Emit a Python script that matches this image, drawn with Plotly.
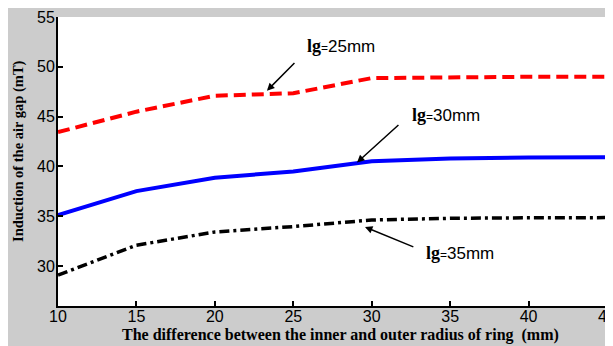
import plotly.graph_objects as go

x_vals = [10, 15, 20, 25, 30, 35, 40, 45]
lg25 = [43.45, 45.5, 47.1, 47.35, 48.87, 48.97, 49.0, 49.0]
lg30 = [35.13, 37.53, 38.87, 39.5, 40.53, 40.8, 40.9, 40.93]
lg35 = [29.1, 32.1, 33.43, 33.97, 34.63, 34.8, 34.85, 34.87]

x_ticks = [10, 15, 20, 25, 30, 35, 40, 45]
y_ticks = [30, 35, 40, 45, 50, 55]

fig = go.Figure()
fig.add_trace(go.Scatter(x=x_vals, y=lg25, mode="lines",
                         line=dict(color="#ff0000", width=4, dash="12px,6px")))
fig.add_trace(go.Scatter(x=x_vals, y=lg30, mode="lines",
                         line=dict(color="#0000ff", width=4)))
fig.add_trace(go.Scatter(x=x_vals, y=lg35, mode="lines",
                         line=dict(color="#000000", width=3.5, dash="10px,4px,3px,4px")))

serif = "Liberation Serif, Times New Roman, serif"
sans = "Liberation Sans, Arial, sans-serif"

def label(num):
    return ("<span style='font-family:Liberation Serif;font-weight:bold;font-size:18px'>lg</span>"
            "<span style='font-size:12px'>=</span>" + num + "mm")

texts = [(label("25"), 28.04, 52.1), (label("30"), 34.73, 45.2), (label("35"), 35.62, 31.3)]
for t, tx, ty in texts:
    fig.add_annotation(x=tx, y=ty, xref="x", yref="y", text=t, showarrow=False,
                       font=dict(family=sans, size=17, color="black"))

arrows = [(23.32, 47.6, 25.17, 50.53), (29.06, 40.4, 31.8, 44.3), (29.57, 33.93, 32.75, 31.87)]
for hx, hy, tx, ty in arrows:
    fig.add_annotation(x=hx, y=hy, ax=tx, ay=ty, xref="x", yref="y", axref="x", ayref="y",
                       text="", showarrow=True, arrowhead=2, arrowsize=1, arrowwidth=1.5,
                       arrowcolor="black")

# plot area in figure pixels: left 50, right 599, top 9, bottom 298
PW, PH = 549, 289
fig.add_annotation(x=(332 - 50) / PW, y=-(327 - 298) / PH, xref="paper", yref="paper",
                   text="<b>The difference between the inner and outer radius of ring  (mm)</b>",
                   showarrow=False, font=dict(family=serif, size=16, color="black"),
                   xanchor="center", yanchor="middle")
fig.add_annotation(x=(10 - 50) / PW, y=(298 - 143) / PH, xref="paper", yref="paper",
                   text="<b>Induction of the air gap (mT)</b>", textangle=-90,
                   showarrow=False, font=dict(family=serif, size=14.5, color="black"),
                   xanchor="center", yanchor="middle")

fig.update_layout(
    width=613, height=338,
    margin=dict(l=50, r=14, t=9, b=40, autoexpand=False),
    paper_bgcolor="#cccccc", plot_bgcolor="white",
    showlegend=False,
    font=dict(family=sans, size=16, color="black"),
)
fig.update_xaxes(range=[10, 45], tickvals=x_ticks, ticks="inside", ticklen=5, tickwidth=1.5,
                 tickcolor="black", showline=True, linecolor="black", linewidth=2,
                 showgrid=False, zeroline=False, automargin=False, ticklabelstandoff=-5,
                 tickfont=dict(family=sans, size=16))
fig.update_yaxes(range=[26, 55], tickvals=y_ticks, ticks="inside", ticklen=5, tickwidth=1.5,
                 tickcolor="black", showline=True, linecolor="black", linewidth=2,
                 showgrid=False, zeroline=False, automargin=False, ticklabelstandoff=-2,
                 tickfont=dict(family=sans, size=16))

fig.write_html("out.html")
